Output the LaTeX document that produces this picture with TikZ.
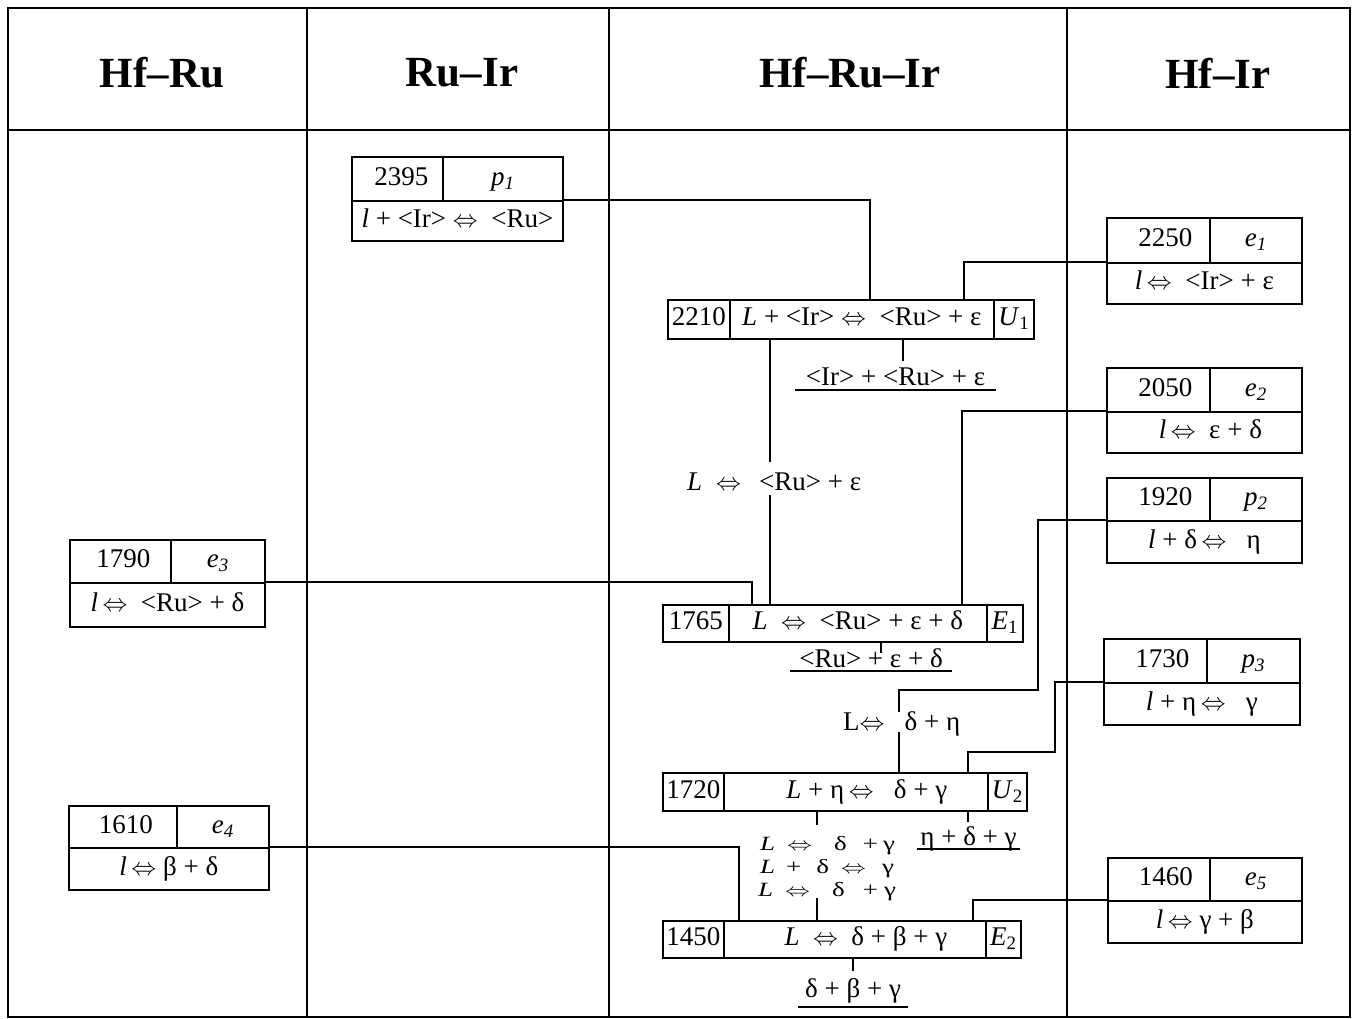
\documentclass[tikz,border=0pt]{standalone}
\usepackage{fontspec}
\usepackage{graphicx}
\setmainfont{Liberation Serif}
\usetikzlibrary{calc}
\newcommand\cellat[6]{\node[cell,minimum width={(#4-#2)*1pt},minimum height={(#5-#3)*1pt}] (#1) at (#2,#3) {#6};}
\newcommand\lr{$\Leftrightarrow$}
\newcommand\squash[1]{\scalebox{1}[0.75]{#1}}
\begin{document}
\begin{tikzpicture}[x=1pt,y=-1pt,
  every node/.style={font=\fontsize{27}{30}\selectfont},
  frame/.style={line width=2.2pt},
  cell/.style={draw, line width=1.8pt, inner sep=0pt, anchor=north west, text height=19pt, text depth=6pt},
  conn/.style={line width=1.6pt},
  hdr/.style={font=\fontsize{43}{48}\selectfont\bfseries},
  ul/.style={inner sep=0pt, anchor=base, text height=19pt},
  lbl/.style={inner sep=0pt, anchor=base west}
]
\useasboundingbox (0,0) rectangle (1356,1019);
\fill[white] (0,0) rectangle (1356,1019);

% table frame
\draw[frame] (8,8) rectangle (1350,1017);
\draw[frame] (8,130) -- (1350,130);
\draw[frame] (307,8) -- (307,1017);
\draw[frame] (609,8) -- (609,1017);
\draw[frame] (1067,8) -- (1067,1017);

% headers
\node[hdr] (h1) at (162,73) {Hf–Ru};
\node[hdr] (h2) at (462,73) {Ru–Ir};
\node[hdr] (h3) at (850,73) {Hf–Ru–Ir};
\node[hdr] (h4) at (1218,73) {Hf–Ir};

% p1
\cellat{p1t}{351}{156}{442}{200}{\hspace*{8pt}2395}
\cellat{p1s}{442}{156}{562}{200}{\textit{p}\textsubscript{\textit{1}}}
\cellat{p1b}{351}{200}{562}{240}{\textit{l} + <Ir> \lr\ \ <Ru>}
% e1
\cellat{e1t}{1106}{217}{1209}{262}{\hspace*{14pt}2250}
\cellat{e1s}{1209}{217}{1301}{262}{\textit{e}\textsubscript{\textit{1}}}
\cellat{e1b}{1106}{262}{1301}{303}{\textit{l}\,\lr\ \ <Ir> + ε}
% e2
\cellat{e2t}{1106}{367}{1209}{411}{\hspace*{14pt}2050}
\cellat{e2s}{1209}{367}{1301}{411}{\textit{e}\textsubscript{\textit{2}}}
\cellat{e2b}{1106}{411}{1301}{452}{\hspace*{12pt}\textit{l}\,\lr\ \ ε + δ}
% p2
\cellat{p2t}{1106}{477}{1209}{520}{\hspace*{14pt}1920}
\cellat{p2s}{1209}{477}{1301}{520}{\textit{p}\textsubscript{\textit{2}}}
\cellat{p2b}{1106}{520}{1301}{562}{\textit{l} + δ\,\lr\ \ \ η}
% p3
\cellat{p3t}{1103}{638}{1206}{682}{\hspace*{14pt}1730}
\cellat{p3s}{1206}{638}{1299}{682}{\textit{p}\textsubscript{\textit{3}}}
\cellat{p3b}{1103}{682}{1299}{724}{\textit{l} + η\,\lr\ \ \ γ}
% e5
\cellat{e5t}{1107}{857}{1209}{900}{\hspace*{14pt}1460}
\cellat{e5s}{1209}{857}{1301}{900}{\textit{e}\textsubscript{\textit{5}}}
\cellat{e5b}{1107}{900}{1301}{942}{\textit{l}\,\lr\ γ + β}
% e3
\cellat{e3t}{69}{539}{170}{582}{\hspace*{6pt}1790}
\cellat{e3s}{170}{539}{264}{582}{\textit{e}\textsubscript{\textit{3}}}
\cellat{e3b}{69}{582}{264}{626}{\textit{l}\,\lr\ \ <Ru> + δ}
% e4
\cellat{e4t}{68}{805}{176}{847}{\hspace*{6pt}1610}
\cellat{e4s}{176}{805}{268}{847}{\textit{e}\textsubscript{\textit{4}}}
\cellat{e4b}{68}{847}{268}{889}{\textit{l}\,\lr\ β + δ}

% U1
\cellat{U1t}{667}{299}{729}{338}{2210}
\cellat{U1r}{729}{299}{993}{338}{\textit{L} + <Ir> \lr\ \ <Ru> + ε}
\cellat{U1n}{993}{299}{1033}{338}{\textit{U}\textsubscript{1}}
% E1
\cellat{E1t}{662}{604}{728}{641}{1765}
\cellat{E1r}{728}{604}{986}{641}{\textit{L}\ \ \lr\ \ <Ru> + ε + δ}
\cellat{E1n}{986}{604}{1022}{641}{\textit{E}\textsubscript{1}}
% U2
\cellat{U2t}{662}{772}{723}{810}{1720}
\cellat{U2r}{723}{772}{987}{810}{\hspace*{22pt}\textit{L} + η\,\lr\ \ \ δ + γ}
\cellat{U2n}{987}{772}{1026}{810}{\textit{U}\textsubscript{2}}
% E2
\cellat{E2t}{662}{920}{723}{957}{1450}
\cellat{E2r}{723}{920}{985}{957}{\hspace*{22pt}\textit{L}\ \ \lr\ \ δ + β + γ}
\cellat{E2n}{985}{920}{1020}{957}{\textit{E}\textsubscript{2}}

% free labels
\node[lbl] (lab1) at (687,490) {\textit{L}\hspace{14pt}\lr\hspace{18pt}<Ru> + ε};
\node[lbl] (lab2) at (843,730) {L\lr\hspace{20pt}δ + η};
\node[lbl] (lab3a) at (760,850) {\squash{\textit{L}\hspace{12pt}\lr\hspace{22pt}δ\hspace{16pt}+\hspace{5pt}γ}};
\node[lbl] (lab3b) at (760,873) {\squash{\textit{L}\hspace{11pt}+\hspace{15pt}δ\hspace{12pt}\lr\hspace{16pt}γ}};
\node[lbl] (lab3c) at (758,896) {\squash{\textit{L}\hspace{12pt}\lr\hspace{22pt}δ\hspace{18pt}+\hspace{6pt}γ}};

\node[ul, minimum width=201pt, text depth=5pt] (ul1) at (895.5,385) {<Ir> + <Ru> + ε};
\node[ul, minimum width=162pt, text depth=4pt] (ul2) at (871,667) {<Ru> + ε + δ};
\node[ul, minimum width=103pt, text depth=4pt] (ul3) at (968.5,845) {η + δ + γ};
\node[ul, minimum width=110pt, text depth=10pt] (ul4) at (853,997) {δ + β + γ};
\foreach \u in {ul1,ul2,ul3,ul4} \draw[conn] (\u.south west) -- (\u.south east);

% named free ends
\coordinate (t1) at (903,361);
\coordinate (t2) at (881,653);
\coordinate (t3) at (968,822);
\coordinate (t4) at (853,971);
\coordinate (g1a) at (770,462);
\coordinate (g1b) at (770,495);
\coordinate (g2a) at (899,712);
\coordinate (g2b) at (899,732);
\coordinate (g3a) at (817,825);
\coordinate (g3b) at (817,898);
\coordinate (b1) at (1038,690);
\coordinate (b2) at (1055,752);

% connectors
\draw[conn] (p1b.north east) -| (U1r.north -| 870,0);
\draw[conn] (e1b.north west) -| (U1r.north -| 964,0);
\draw[conn] (U1r.south -| t1) -- (t1);
\draw[conn] (U1r.south -| g1a) -- (g1a);
\draw[conn] (g1b) -- (E1r.north -| g1b);
\draw[conn] (e2b.north west) -| (E1r.north -| 962,0);
\draw[conn] (e3b.north east) -| (E1r.north -| 752,0);
\draw[conn] (E1r.south -| t2) -- (t2);
\draw[conn] (p2b.north west) -| (b1) -| (g2a);
\draw[conn] (g2b) -- (U2r.north -| g2b);
\draw[conn] (p3b.north west) -| (b2) -| (U2r.north -| 968,0);
\draw[conn] (U2r.south -| t3) -- (t3);
\draw[conn] (U2r.south -| g3a) -- (g3a);
\draw[conn] (g3b) -- (E2r.north -| g3b);
\draw[conn] (e4b.north east) -| (E2r.north -| 739,0);
\draw[conn] (e5b.north west) -| (E2r.north -| 973,0);
\draw[conn] (E2r.south -| t4) -- (t4);
\end{tikzpicture}
\end{document}
